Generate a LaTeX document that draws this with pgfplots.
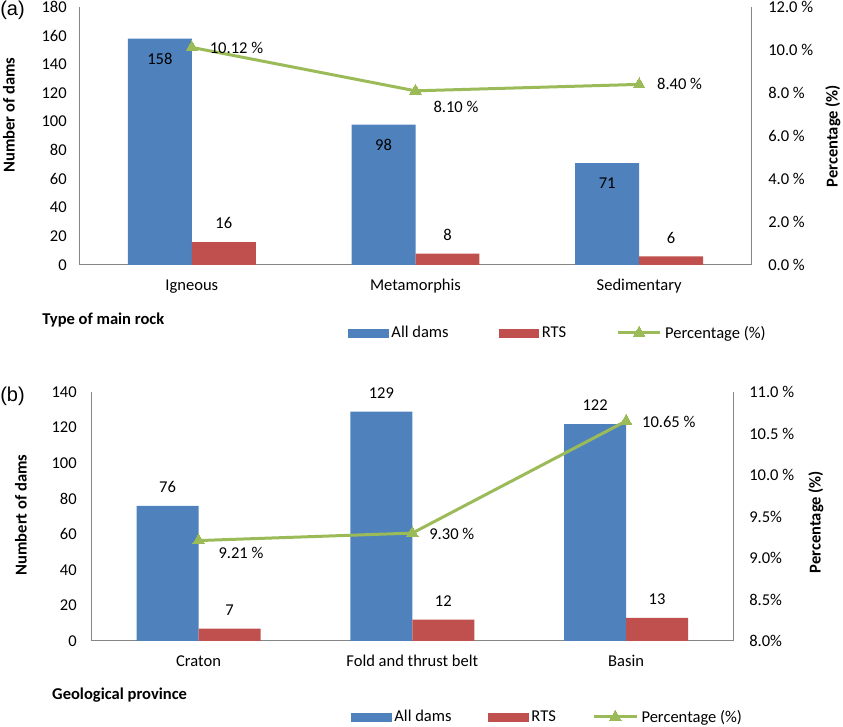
\documentclass[border=0pt]{standalone}
\usepackage{fontspec}
\setmainfont{Carlito}
\newfontfamily\arialf{Liberation Sans}
\usepackage{pgfplots}
\pgfplotsset{compat=1.18}
\definecolor{blueC}{HTML}{4F81BD}
\definecolor{redC}{HTML}{C0504D}
\definecolor{greenC}{HTML}{9BBB59}
\definecolor{axisC}{HTML}{868686}

\pgfplotsset{
 base/.style={
   scale only axis, enlargelimits=false, xmin=-0.5, xmax=2.5,
   major tick length=0pt,
   axis line style={axisC, line width=0.75pt, -},
   every outer x axis line/.append style={-},
   every outer y axis line/.append style={-},
   /pgf/number format/assume math mode=true,
   tick label style={text=black},
 },
 pctline/.style={greenC, line width=2.25pt, mark=triangle*, mark size=5pt,
   mark options={solid, line width=0pt},
   legend image code/.code={\draw[mark repeat=2,mark phase=2,##1] plot coordinates {(0pt,0pt) (16pt,0pt) (32pt,0pt)};},
   point meta=y,
   nodes near coords={\pgfmathprintnumber[fixed,fixed zerofill,precision=2]{\pgfplotspointmeta}\ \%},
   visualization depends on={\thisrow{dx}\as\myDX},
   visualization depends on={\thisrow{dy}\as\myDY},
   every node near coord/.append style={anchor=west, inner sep=0pt, xshift=\myDX pt, yshift=\myDY pt, text=black},
 },
}

\begin{document}
\begin{tikzpicture}[font=\fontsize{12.4}{15}\selectfont]
\useasboundingbox (0,0) rectangle (632.25pt,545.25pt);

\node[anchor=west, inner sep=0pt, font=\arialf\fontsize{15}{18}\selectfont] at (0pt,537.75pt) {(a)};
\node[anchor=west, inner sep=0pt, font=\arialf\fontsize{15}{18}\selectfont] at (0pt,248.25pt) {(b)};

% ---------- Panel (a) ----------
\begin{axis}[base, width=503.25pt, height=193.5pt, at={(60pt,346.5pt)}, anchor=south west,
  axis x line*=bottom, axis y line*=left, ymin=0, ymax=180, ytick={0,20,...,180},
  xtick={0,1,2}, xticklabels={Igneous,Metamorphis,Sedimentary},
  xticklabel style={anchor=base, yshift=-19.25pt},
  yticklabel style={anchor=east, inner sep=0pt, xshift=-9.75pt},
  ylabel={\bfseries Number of dams},
  ylabel style={at={(axis description cs:-0.1058,0.5814)}, anchor=center},
  xlabel={\bfseries Type of main rock},
  xlabel style={at={(axis description cs:-0.0566,-0.2132)}, anchor=west, inner sep=0pt},
  ybar, bar width=0.286, nodes near coords,
]
\addplot[fill=blueC, draw=none, bar shift=-0.143,
  every node near coord/.append style={anchor=center, yshift=-15pt, text=black}]
  coordinates {(0,158) (1,98) (2,71)};
\addplot[fill=redC, draw=none, bar shift=0.143,
  every node near coord/.append style={anchor=center, yshift=14pt, text=black}]
  coordinates {(0,16) (1,8) (2,6)};
\end{axis}

\begin{axis}[base, width=503.25pt, height=193.5pt, at={(60pt,346.5pt)}, anchor=south west,
  axis x line=none, axis y line*=right, ymin=0, ymax=12, ytick={0,2,...,12},
  yticklabel={\pgfmathprintnumber[fixed,fixed zerofill,precision=1]{\tick}\ \%},
  yticklabel style={anchor=west, inner sep=0pt, xshift=12.75pt},
  ylabel={\bfseries Percentage (\%)},
  ylabel style={at={(axis description cs:1.1222,0.5)}, anchor=center},
  legend columns=3, legend cell align=left,
  legend style={at={(0.3994,-0.2636)}, anchor=west, draw=none, fill=none, inner sep=0pt,
    nodes={inner sep=1pt},
    /tikz/every odd column/.append style={column sep=1.5pt},
    /tikz/every even column/.append style={column sep=36.5pt}},
]
\addlegendimage{legend image code/.code={\fill[blueC] (0pt,-3pt) rectangle (29.5pt,3pt);}}
\addlegendentry{All dams}
\addlegendimage{legend image code/.code={\fill[redC] (0pt,-3pt) rectangle (29.5pt,3pt);}}
\addlegendentry{RTS}
\addplot[pctline] table {
x y dx dy
0 10.12 13.5 -0.75
1 8.10 13.5 -12
2 8.40 13.5 0
};
\addlegendentry{Percentage (\%)}
\end{axis}

% ---------- Panel (b) ----------
\begin{axis}[base, width=481pt, height=186.75pt, at={(68.75pt,64.5pt)}, anchor=south west,
  axis x line*=bottom, axis y line*=left, ymin=0, ymax=140, ytick={0,20,...,140},
  xtick={0,1,2}, xticklabels={Craton,Fold and thrust belt,Basin},
  xticklabel style={anchor=base, yshift=-19.5pt},
  yticklabel style={anchor=east, inner sep=0pt, xshift=-11pt},
  ylabel={\bfseries Numbert of dams},
  ylabel style={at={(axis description cs:-0.1102,0.506)}, anchor=center},
  xlabel={\bfseries Geological province},
  xlabel style={at={(axis description cs:-0.0619,-0.2169)}, anchor=west, inner sep=0pt},
  ybar, bar width=0.29, nodes near coords,
]
\addplot[fill=blueC, draw=none, bar shift=-0.145,
  every node near coord/.append style={anchor=center, yshift=14pt, text=black}]
  coordinates {(0,76) (1,129) (2,122)};
\addplot[fill=redC, draw=none, bar shift=0.145,
  every node near coord/.append style={anchor=center, yshift=14pt, text=black}]
  coordinates {(0,7) (1,12) (2,13)};
\end{axis}

\begin{axis}[base, width=481pt, height=186.75pt, at={(68.75pt,64.5pt)}, anchor=south west,
  axis x line=none, axis y line*=right, ymin=8, ymax=11, ytick={8,8.5,9,9.5,10,10.5,11},
  yticklabels={8.0\%,8.5\%,9.0\%,9.5\%,10.0\ \%,10.5\ \%,11.0\ \%},
  yticklabel style={anchor=west, inner sep=0pt, xshift=12pt},
  ylabel={\bfseries Percentage (\%)},
  ylabel style={at={(axis description cs:1.1294,0.478)}, anchor=center},
  legend columns=3, legend cell align=left,
  legend style={at={(0.4043,-0.3052)}, anchor=west, draw=none, fill=none, inner sep=0pt,
    nodes={inner sep=1pt},
    /tikz/every odd column/.append style={column sep=1.5pt},
    /tikz/every even column/.append style={column sep=26.5pt}},
]
\addlegendimage{legend image code/.code={\fill[blueC] (0pt,-3pt) rectangle (29.5pt,3pt);}}
\addlegendentry{All dams}
\addlegendimage{legend image code/.code={\fill[redC] (0pt,-3pt) rectangle (29.5pt,3pt);}}
\addlegendentry{RTS}
\addplot[pctline] table {
x y dx dy
0 9.21 15 -9
1 9.30 12.75 -0.75
2 10.65 12 -0.75
};
\addlegendentry{Percentage (\%)}
\end{axis}
\end{tikzpicture}
\end{document}
